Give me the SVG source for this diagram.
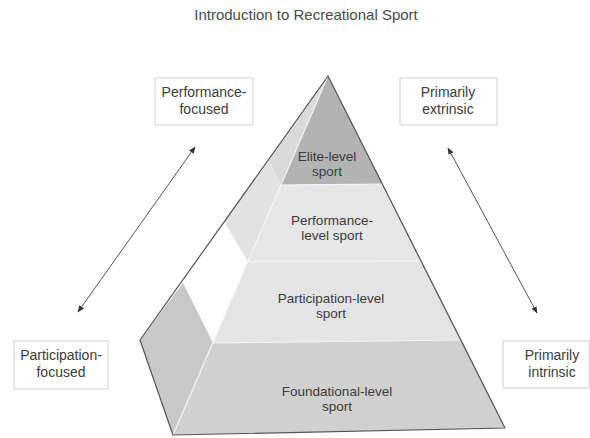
<svg xmlns="http://www.w3.org/2000/svg" width="590" height="438" viewBox="0 0 590 438">
  <defs>
    <style>
      .title { font-family: "Liberation Sans", Arial, sans-serif; font-size: 15px; fill: #4a4a4a; text-anchor: middle; }
      .lbl { font-family: "Liberation Sans", Arial, sans-serif; font-size: 14px; fill: #3c3c3c; text-anchor: middle; }
      .tier { font-family: "Liberation Sans", Arial, sans-serif; font-size: 13.5px; fill: #3c3c3c; text-anchor: middle; }
      .box { fill: #ffffff; stroke: #d0d0d0; stroke-width: 1; }
      .conn { stroke: #555555; stroke-width: 1; fill: none; marker-start: url(#head); marker-end: url(#head); }
      .edge { fill: none; stroke: #555555; stroke-width: 1.2; stroke-linejoin: round; }
      .seam { stroke: #f4f4f4; stroke-width: 1.2; fill: none; }
    </style>
    <marker id="head" viewBox="0 0 10 10" refX="9" refY="5" markerWidth="7" markerHeight="7" orient="auto-start-reverse" markerUnits="userSpaceOnUse">
      <path d="M0,1 L10,5 L0,9 Z" fill="#333333"/>
    </marker>
  </defs>

  <rect width="590" height="438" fill="#ffffff"/>

  <text class="title" x="306" y="20">Introduction to Recreational Sport</text>

  <!-- pyramid tiers -->
  <g id="pyramid">
    <!-- side faces -->
    <polygon points="328,76 281,185 268,160" fill="#dadada"/>
    <polygon points="268,160 281,185 248,262 224,222" fill="#e2e2e2"/>
    <polygon points="224,222 248,262 213,343 183,283" fill="#ffffff"/>
    <polygon points="183,283 213,343 173,435 140,340" fill="#c8c8c8"/>
  </g>

  <g id="tier-elite">
    <polygon points="328,76 383,184 281,185" fill="#b3b3b3"/>
    <text class="tier" x="327" y="161">Elite-level</text>
    <text class="tier" x="327" y="176">sport</text>
  </g>

  <g id="tier-performance">
    <polygon points="281,185 383,184 422,261 248,262" fill="#e6e6e6"/>
    <text class="tier" x="332" y="225">Performance-</text>
    <text class="tier" x="332" y="240">level sport</text>
  </g>

  <g id="tier-participation">
    <polygon points="248,262 422,261 462,340 213,343" fill="#e4e4e4"/>
    <text class="tier" x="331" y="303">Participation-level</text>
    <text class="tier" x="331" y="318">sport</text>
  </g>

  <g id="tier-foundational">
    <polygon points="213,343 462,340 505,428 173,435" fill="#d0d0d0"/>
    <text class="tier" x="337" y="396">Foundational-level</text>
    <text class="tier" x="337" y="411">sport</text>
  </g>

  <g id="pyramid-edges">
    <line class="seam" x1="281" y1="185" x2="383" y2="184"/>
    <line class="seam" x1="248" y1="262" x2="422" y2="261"/>
    <line class="seam" x1="213" y1="343" x2="462" y2="340"/>
    <line class="seam" x1="328" y1="76" x2="173" y2="435"/>
    <polygon class="edge" points="328,76 505,428 173,435 140,340"/>
  </g>

  <g id="box-performance-focused">
    <rect class="box" x="155" y="78" width="98" height="47"/>
    <text class="lbl" x="204" y="97">Performance-</text>
    <text class="lbl" x="204" y="114">focused</text>
  </g>

  <g id="box-primarily-extrinsic">
    <rect class="box" x="400" y="78" width="97" height="47"/>
    <text class="lbl" x="448" y="97">Primarily</text>
    <text class="lbl" x="448" y="114">extrinsic</text>
  </g>

  <g id="box-participation-focused">
    <rect class="box" x="14" y="341" width="94" height="48"/>
    <text class="lbl" x="61" y="360">Participation-</text>
    <text class="lbl" x="61" y="377">focused</text>
  </g>

  <g id="box-primarily-intrinsic">
    <rect class="box" x="503" y="341" width="86" height="47"/>
    <text class="lbl" x="552" y="360">Primarily</text>
    <text class="lbl" x="552" y="377">intrinsic</text>
  </g>

  <g id="connectors">
    <line class="conn" x1="195" y1="147" x2="78" y2="312"/>
    <line class="conn" x1="448" y1="148" x2="537" y2="313"/>
  </g>
</svg>
